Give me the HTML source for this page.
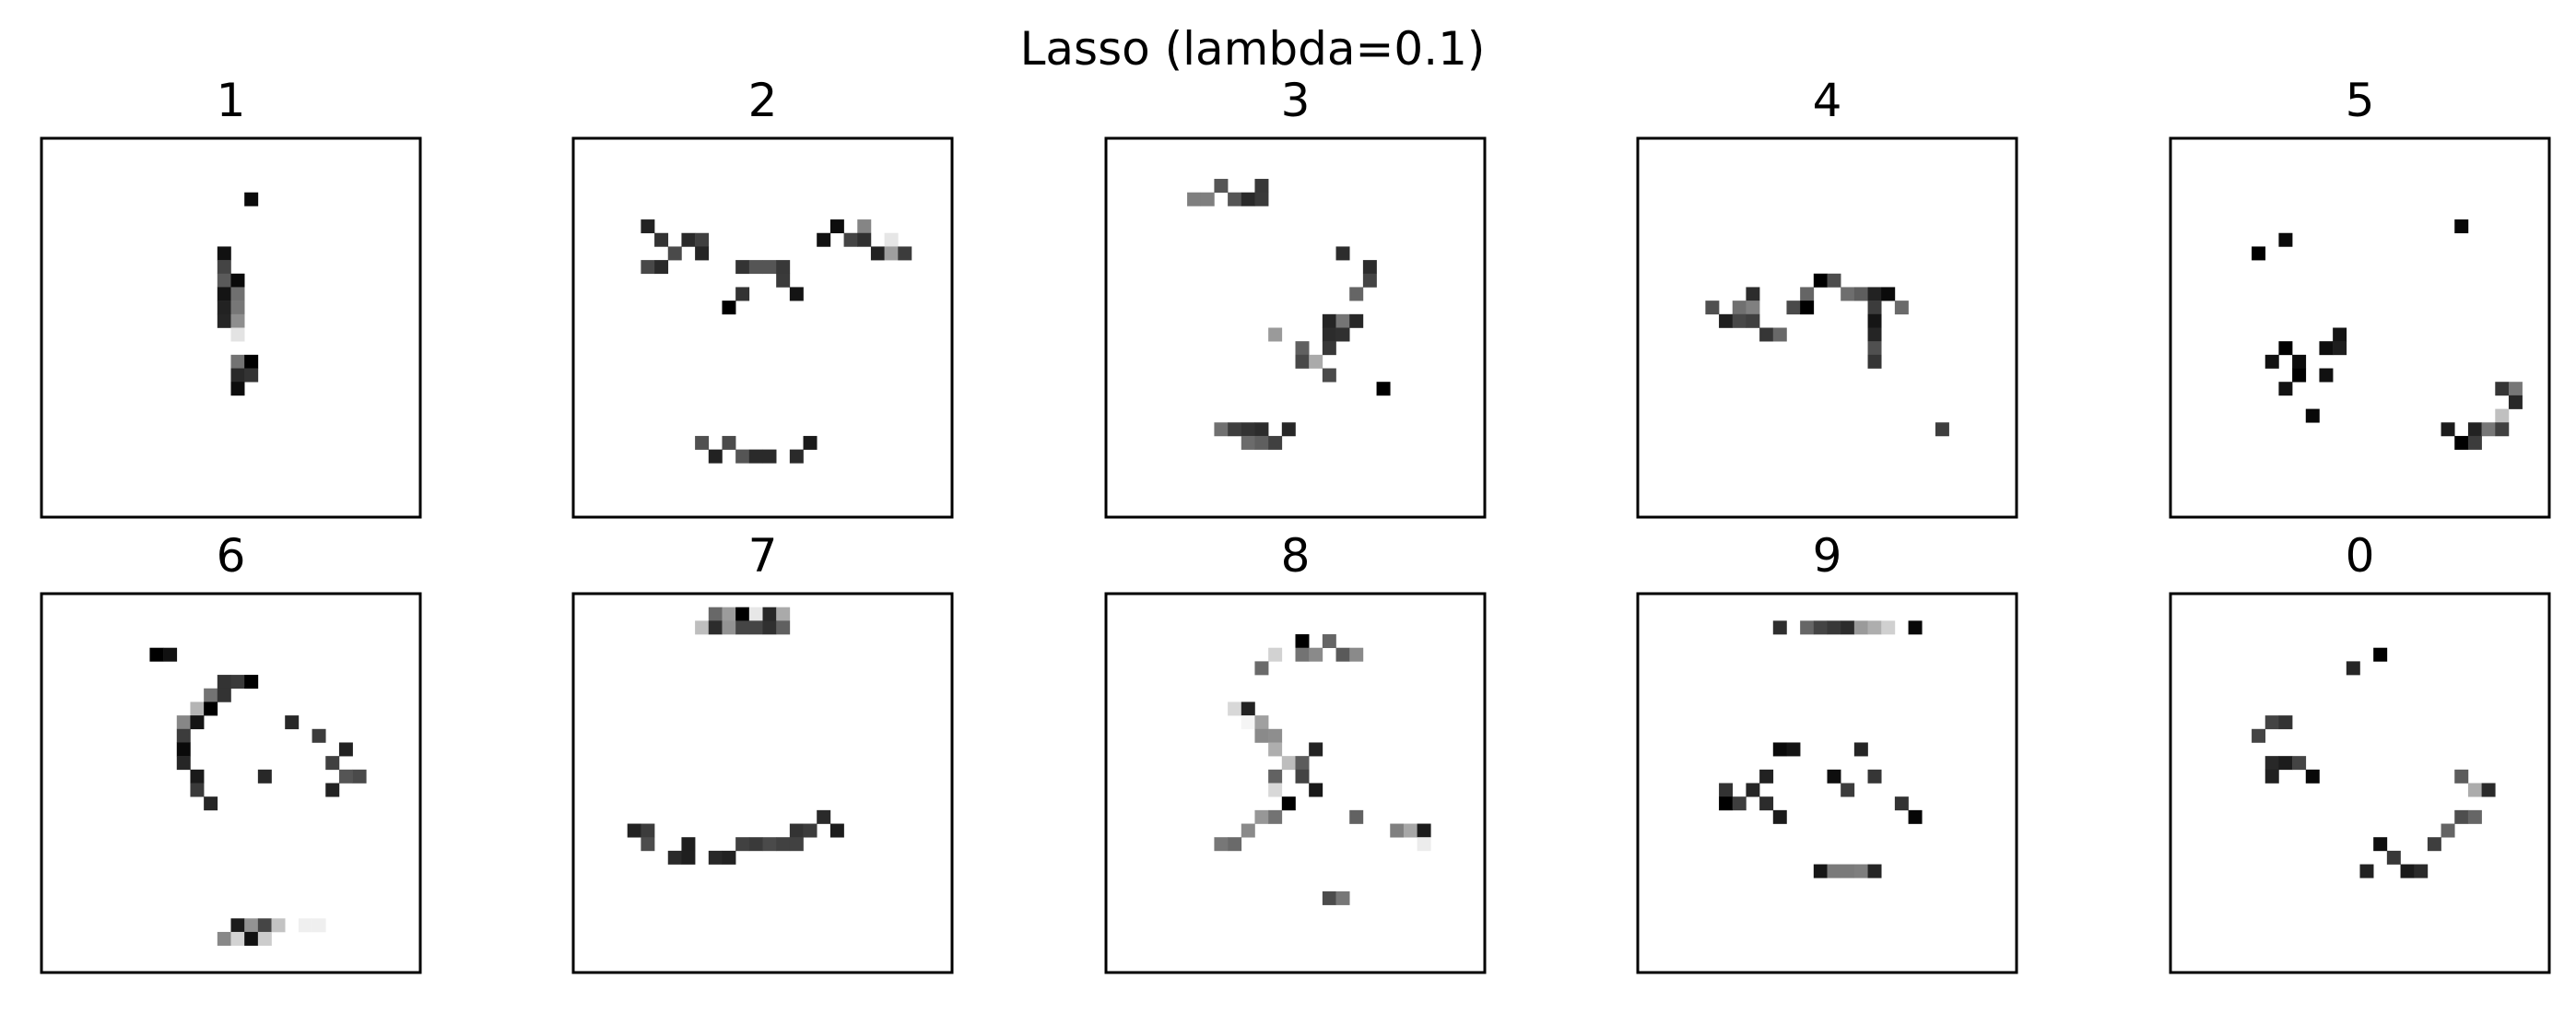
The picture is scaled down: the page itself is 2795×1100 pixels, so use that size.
<!DOCTYPE html>
<html><head><meta charset="utf-8"><style>
html,body{margin:0;padding:0;background:#fff;}
svg{display:block;font-family:"DejaVu Sans","Liberation Sans",sans-serif;}
</style></head><body>
<svg id="fig" width="2795" height="1100" viewBox="0 0 2795 1100" xmlns="http://www.w3.org/2000/svg">
<rect width="2795" height="1100" fill="#fff"/>
<text x="1359" y="70" font-size="50" text-anchor="middle" fill="#000">Lasso (lambda=0.1)</text>
</svg>
<script>
const labels = ["1","2","3","4","5","6","7","8","9","0"];
// each cell: [row, col, gray level]
const p1 = [[4,15,0x0a],[8,13,0x11],[9,13,0x44],[10,13,0x5a],[10,14,0x0a],[11,13,0x14],[11,14,0x70],[12,13,0x22],[12,14,0x77],[13,13,0x25],[13,14,0x8e],[14,14,0xe3],[16,14,0x73],[16,15,0x00],[17,14,0x29],[17,15,0x33],[18,14,0x0c]];
const p2 = [[6,5,0x22],[6,19,0x0d],[6,21,0x85],[7,6,0x33],[7,8,0x2a],[7,9,0x40],[7,18,0x11],[7,20,0x44],[7,21,0x30],[7,23,0xe6],[8,7,0x4a],[8,9,0x25],[8,22,0x22],[8,23,0x9e],[8,24,0x3c],[9,5,0x48],[9,6,0x2a],[9,12,0x33],[9,13,0x55],[9,14,0x55],[9,15,0x38],[10,15,0x3a],[11,12,0x33],[11,16,0x14],[12,11,0x00],[22,9,0x50],[22,11,0x4a],[22,17,0x1a],[23,10,0x22],[23,12,0x55],[23,13,0x2a],[23,14,0x2a],[23,16,0x2a]];
const p3 = [[3,8,0x55],[3,11,0x38],[4,6,0x7f],[4,7,0x7f],[4,9,0x55],[4,10,0x2a],[4,11,0x3a],[8,17,0x2c],[9,19,0x2c],[10,19,0x44],[11,18,0x65],[13,16,0x25],[13,17,0x75],[13,18,0x27],[14,12,0x9a],[14,16,0x2c],[14,17,0x30],[15,14,0x60],[15,16,0x38],[16,14,0x48],[16,15,0xaa],[17,16,0x4a],[18,20,0x00],[21,8,0x70],[21,9,0x3e],[21,10,0x33],[21,11,0x2c],[21,13,0x27],[22,10,0x6b],[22,11,0x5f],[22,12,0x40]];
const p4 = [[10,13,0x00],[10,14,0x4d],[11,8,0x2c],[11,12,0x65],[11,15,0x6e],[11,16,0x5e],[11,17,0x22],[11,18,0x0a],[12,5,0x50],[12,7,0x70],[12,8,0x80],[12,11,0x4a],[12,12,0x00],[12,17,0x3c],[12,19,0x6a],[13,6,0x1f],[13,7,0x48],[13,8,0x40],[13,17,0x15],[14,9,0x36],[14,10,0x68],[14,17,0x25],[15,17,0x50],[16,17,0x35],[21,22,0x3e]];
const p5 = [[6,21,0x08],[7,8,0x0b],[8,6,0x00],[14,12,0x14],[15,8,0x00],[15,11,0x0e],[15,12,0x1e],[16,7,0x11],[16,9,0x0c],[17,9,0x00],[17,11,0x11],[18,8,0x12],[18,24,0x35],[18,25,0x77],[19,25,0x28],[20,10,0x08],[20,24,0xc0],[21,20,0x1b],[21,22,0x22],[21,23,0x77],[21,24,0x40],[22,21,0x00],[22,22,0x3c]];
const p6 = [[4,8,0x00],[4,9,0x11],[6,13,0x33],[6,14,0x3a],[6,15,0x00],[7,12,0x73],[7,13,0x33],[8,11,0xb4],[8,12,0x00],[9,10,0x87],[9,11,0x14],[9,18,0x28],[10,10,0x3c],[10,20,0x3c],[11,10,0x0a],[11,22,0x22],[12,10,0x26],[12,21,0x40],[13,11,0x1a],[13,16,0x28],[13,22,0x55],[13,23,0x4a],[14,11,0x3a],[14,21,0x22],[15,12,0x26],[24,14,0x1b],[24,15,0x93],[24,16,0x45],[24,17,0xc3],[24,19,0xef],[24,20,0xef],[25,13,0x88],[25,14,0xd3],[25,15,0x11],[25,16,0xcc]];
const p7 = [[1,10,0x68],[1,11,0x9c],[1,12,0x00],[1,13,0xe7],[1,14,0x27],[1,15,0xaa],[2,9,0xbe],[2,10,0x2c],[2,11,0x93],[2,12,0x45],[2,13,0x45],[2,14,0x30],[2,15,0x60],[16,18,0x2a],[17,4,0x22],[17,5,0x3c],[17,16,0x33],[17,17,0x3c],[17,19,0x1c],[18,5,0x4c],[18,8,0x1f],[18,12,0x41],[18,13,0x3a],[18,14,0x4a],[18,15,0x41],[18,16,0x41],[19,7,0x2a],[19,8,0x1f],[19,10,0x28],[19,11,0x22]];
const p8 = [[3,14,0x00],[3,16,0x65],[4,12,0xd2],[4,14,0x73],[4,15,0x8a],[4,17,0x5a],[4,18,0x8a],[5,11,0x6a],[8,9,0xd8],[8,10,0x22],[9,10,0xf5],[9,11,0xa0],[10,11,0x8a],[10,12,0x8e],[11,12,0xae],[11,15,0x23],[12,13,0xbd],[12,14,0x5c],[13,12,0x62],[13,14,0x44],[14,12,0xd8],[14,15,0x18],[15,13,0x00],[16,11,0x97],[16,12,0x73],[16,18,0x62],[17,10,0x8a],[17,21,0x80],[17,22,0xa7],[17,23,0x1c],[18,8,0x77],[18,9,0x6a],[18,23,0xec],[22,16,0x4c],[22,17,0x77]];
const p9 = [[2,10,0x2e],[2,12,0x66],[2,13,0x44],[2,14,0x38],[2,15,0x2c],[2,16,0x9a],[2,17,0xae],[2,18,0xd0],[2,20,0x08],[11,10,0x0a],[11,11,0x14],[11,16,0x25],[13,9,0x22],[13,14,0x0e],[13,17,0x36],[14,6,0x33],[14,8,0x26],[14,15,0x3c],[15,6,0x00],[15,7,0x3e],[15,9,0x2c],[15,19,0x33],[16,10,0x1b],[16,20,0x06],[20,13,0x16],[20,14,0x7a],[20,15,0x7a],[20,16,0x7e],[20,17,0x25]];
const p0 = [[4,15,0x00],[5,13,0x26],[9,7,0x44],[9,8,0x33],[10,6,0x44],[12,7,0x28],[12,8,0x1c],[12,9,0x44],[13,7,0x20],[13,10,0x08],[13,21,0x5c],[14,22,0xac],[14,23,0x2a],[16,21,0x4e],[16,22,0x66],[17,20,0x64],[18,15,0x0e],[18,19,0x3e],[19,16,0x38],[20,14,0x22],[20,17,0x1a],[20,18,0x2a]];
const panels = [p1,p2,p3,p4,p5,p6,p7,p8,p9,p0];

const NS = "http://www.w3.org/2000/svg";
const svg = document.getElementById("fig");
const colX = [45, 622, 1200, 1777, 2355];
const rowY = [150, 644];
const size = 411, N = 28, cell = size / N;
function hx(g){ const h = g.toString(16).padStart(2,"0"); return "#" + h + h + h; }
panels.forEach((cells, i) => {
  const x0 = colX[i % 5], y0 = rowY[Math.floor(i / 5)];
  const g = document.createElementNS(NS, "g");
  
  
  svg.appendChild(g);
  const t = document.createElementNS(NS, "text");
  
  
  t.setAttribute("x", x0 + size / 2);
  t.setAttribute("y", y0 - 24);
  t.setAttribute("font-size", "50");
  t.setAttribute("text-anchor", "middle");
  t.textContent = labels[i];
  g.appendChild(t);
  cells.forEach(([r, c, v]) => {
    const rc = document.createElementNS(NS, "rect");
    
    
    rc.setAttribute("x", (x0 + c * cell).toFixed(2));
    rc.setAttribute("y", (y0 + r * cell).toFixed(2));
    rc.setAttribute("width", (cell + 0.3).toFixed(2));
    rc.setAttribute("height", (cell + 0.3).toFixed(2));
    rc.setAttribute("fill", hx(v));
    g.appendChild(rc);
  });
  const f = document.createElementNS(NS, "rect");
  
  
  f.setAttribute("x", x0); f.setAttribute("y", y0);
  f.setAttribute("width", size); f.setAttribute("height", size);
  f.setAttribute("fill", "none"); f.setAttribute("stroke", "#000"); f.setAttribute("stroke-width", "3");
  g.appendChild(f);
});
</script>
</body></html>
